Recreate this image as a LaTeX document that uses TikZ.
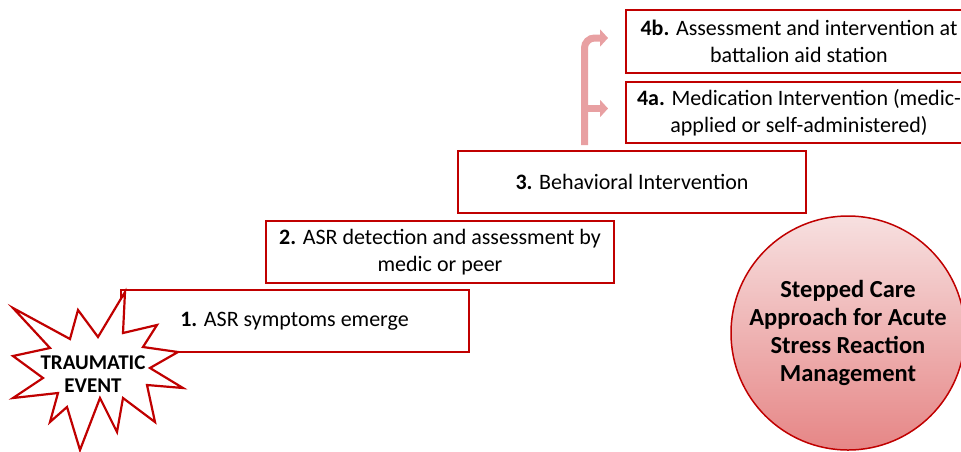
\documentclass[tikz,border=0pt]{standalone}
\usepackage{fontspec}
\setmainfont{Carlito}
\usetikzlibrary{arrows.meta}
\definecolor{stepred}{HTML}{C00000}
\definecolor{forkpink}{HTML}{E8A0A2}
\definecolor{circletop}{HTML}{F7E0E0}
\definecolor{circlebottom}{HTML}{E68686}
\newcommand\colorStepBorder{stepred}
\newcommand\colorFork{forkpink}
\newcommand\stepHeight{62pt}
\newcommand\stepWidth{348pt}
\tikzset{
	stepbox/.style={draw=\colorStepBorder, line width=2pt, fill=white, rectangle, inner sep=0pt,
		minimum width=\stepWidth, minimum height=\stepHeight, align=center,
		font=\fontsize{22}{26.5}\selectfont},
	forkline/.style={draw=\colorFork, line width=7pt, rounded corners=10pt,
		-{Triangle[length=8pt,width=17pt]}},
	burst/.style={draw=\colorStepBorder, line width=2.2pt, fill=white, line join=miter},
	burstlabel/.style={font=\bfseries\fontsize{21}{23.5}\selectfont, align=center, inner sep=0pt},
	approachdisc/.style={circle, draw=\colorStepBorder, line width=1.5pt, minimum size=234pt,
		top color=circletop, bottom color=circlebottom, inner sep=0pt, align=center,
		font=\bfseries\fontsize{24.5}{27.8}\selectfont}
}
\begin{document}
\begin{tikzpicture}[x=1pt, y=-1pt]
	\useasboundingbox (0,0) rectangle (961,451);
	
	\node[stepbox] (step1) at (294.5,321) {\textbf{1.} ASR symptoms emerge};
	\node[stepbox] (step2) at (440,252) {\textbf{2.} ASR detection and assessment by\\medic or peer};
	\node[stepbox] (step3) at (632,181.5) {\textbf{3.} Behavioral Intervention};
	\node[stepbox, minimum height=61pt, minimum width=346pt] (step4a) at (799,112.5)
	{\textbf{4a.} Medication Intervention (medic-\\applied or self-administered)};
	\node[stepbox, minimum height=63pt, minimum width=346pt] (step4b) at (799,41.5)
	{\textbf{4b.} Assessment and intervention at\\battalion aid station};
	
	\coordinate (barfoot) at (584.5,145);
	\coordinate (fork) at ([yshift=4pt]step4a.west -| barfoot);
	\draw[forkline] (barfoot) |- ([xshift=-17pt, yshift=3.5pt]step4b.west);
	\draw[forkline, rounded corners=0pt] (fork) to ([xshift=-17pt, yshift=4pt]step4a.west);
	
	\draw[burst]
	(13,308) to (70,339) to (78,310) to (98,337) to
	(125,292) to (123,333) to (157,325) to (143,347) to
	(178,352) to (150,368) to (183,388) to (147,385) to
	(155,422) to (123,398) to (117,432) to (100,398) to
	(80,450) to (67,407) to (50,422) to (58,393) to
	(13,398) to (43,378) to (13,356) to (50,348) to
	cycle;
	\node[burstlabel] (trauma) at (93,374) {TRAUMATIC\\EVENT};
	
	\node[approachdisc] (approach) at (848,333)
	{Stepped Care\\Approach for Acute\\Stress Reaction\\Management};
\end{tikzpicture}
\end{document}
